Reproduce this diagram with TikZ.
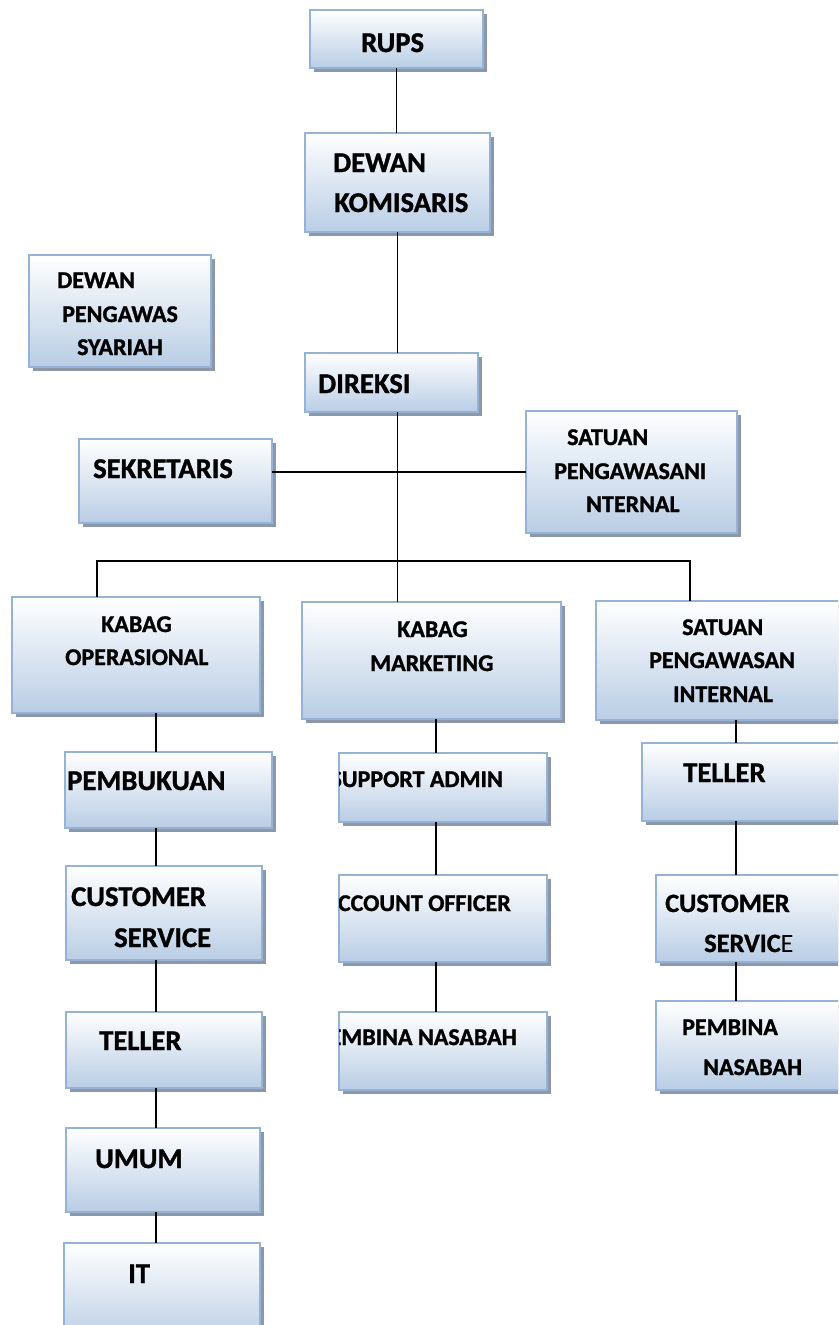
\documentclass[tikz,border=0pt]{standalone}
\usepackage{fontspec}
\setmainfont{Carlito}[BoldFeatures={FakeBold=1.2}]
\usetikzlibrary{shadows}
\definecolor{boxedge}{RGB}{149,179,215}
\definecolor{boxfill}{RGB}{185,205,229}
\definecolor{boxshade}{RGB}{140,152,170}
\begin{document}
\begin{tikzpicture}[x=1pt,y=-1pt,
  unit/.style={rectangle,anchor=north west,inner sep=0pt,outer sep=0pt,
    draw=boxedge,line width=1.8pt,top color=white,bottom color=boxfill,
    drop shadow={shadow xshift=3.5pt,shadow yshift=-3.5pt,fill=boxshade,opacity=1}},
  big/.style={anchor=base west,inner sep=0pt,font=\fontsize{28.6}{28}\selectfont\bfseries},
  mid/.style={anchor=base west,inner sep=0pt,font=\fontsize{26.4}{26}\selectfont\bfseries},
  small/.style={anchor=base west,inner sep=0pt,font=\fontsize{24}{24}\selectfont\bfseries},
  link/.style={line width=1.4pt}]
  \clip (0,0) rectangle (838,1325);
  % top of the chart
  \node[unit,minimum width=173pt,minimum height=58pt] (rups) at (310,10) {};
  \node[unit,minimum width=185pt,minimum height=99pt] (dk) at (305,133) {};
  \node[unit,minimum width=182pt,minimum height=112pt] (dps) at (29,255) {};
  \node[unit,minimum width=173pt,minimum height=59pt] (direksi) at (305,353) {};
  \node[unit,minimum width=193pt,minimum height=84pt] (sekr) at (79,439) {};
  \node[unit,minimum width=211pt,minimum height=122pt] (spi) at (526,411) {};
  % heads of department
  \node[unit,minimum width=248pt,minimum height=116pt] (kop) at (12,597) {};
  \node[unit,minimum width=259pt,minimum height=117pt] (kmk) at (302,602) {};
  \node[unit,minimum width=260pt,minimum height=119pt] (spi2) at (596,601) {};
  % left column
  \node[unit,minimum width=207pt,minimum height=76pt] (pemb) at (65,752) {};
  \node[unit,minimum width=196pt,minimum height=94pt] (cs1) at (66,866) {};
  \node[unit,minimum width=196pt,minimum height=76pt] (tel1) at (66,1012) {};
  \node[unit,minimum width=194pt,minimum height=84pt] (umum) at (66,1128) {};
  \node[unit,minimum width=196pt,minimum height=100pt] (it) at (64,1243) {};
  % middle column
  \node[unit,minimum width=208pt,minimum height=69pt] (sa) at (339,753) {};
  \node[unit,minimum width=208pt,minimum height=87pt] (ao) at (339,875) {};
  \node[unit,minimum width=208pt,minimum height=78pt] (pn) at (339,1012) {};
  % right column
  \node[unit,minimum width=210pt,minimum height=78pt] (tel2) at (642,743) {};
  \node[unit,minimum width=200pt,minimum height=87pt] (cs2) at (656,875) {};
  \node[unit,minimum width=200pt,minimum height=89pt] (pn2) at (656,1001) {};

  % connectors
  \coordinate (busL) at (97,561);
  \coordinate (busR) at (690,561);
  \coordinate (colL) at (156,0);
  \coordinate (colM) at (436,0);
  \coordinate (colR) at (736,0);
  \draw[link] (rups.south) -- (rups.south |- dk.north);
  \draw[link] (dk.south) -- (dk.south |- direksi.north);
  \draw[link] (dk.south |- direksi.south) -- (dk.south |- kmk.north);
  \draw[link] (sekr.east |- spi.west) -- (spi.west);
  \draw[link] (busL |- kop.north) -- (busL) -- (busR) -- (busR |- spi2.north);
  \draw[link] (colL |- kop.south) -- (colL |- pemb.north);
  \draw[link] (colL |- pemb.south) -- (colL |- cs1.north);
  \draw[link] (colL |- cs1.south) -- (colL |- tel1.north);
  \draw[link] (colL |- tel1.south) -- (colL |- umum.north);
  \draw[link] (colL |- umum.south) -- (colL |- it.north);
  \draw[link] (colM |- kmk.south) -- (colM |- sa.north);
  \draw[link] (colM |- sa.south) -- (colM |- ao.north);
  \draw[link] (colM |- ao.south) -- (colM |- pn.north);
  \draw[link] (colR |- spi2.south) -- (colR |- tel2.north);
  \draw[link] (colR |- tel2.south) -- (colR |- cs2.north);
  \draw[link] (colR |- cs2.south) -- (colR |- pn2.north);

  % texts
  \node[big] (rups-t) at (361,52) {RUPS};
  \node[big] (dk-t1) at (333,172) {DEWAN};
  \node[big] (dk-t2) at (334,212) {KOMISARIS};
  \node[small] (dps-t1) at (57,288) {DEWAN};
  \node[small] (dps-t2) at (62,322) {PENGAWAS};
  \node[small] (dps-t3) at (77,355) {SYARIAH};
  \node[big] (direksi-t) at (318,393) {DIREKSI};
  \node[big] (sekr-t) at (93,478) {SEKRETARIS};
  \node[small] (spi-t1) at (567,445) {SATUAN};
  \node[small] (spi-t2) at (554,479) {PENGAWASANI};
  \node[small] (spi-t3) at (586,512) {NTERNAL};
  \node[small] (kop-t1) at (101,632) {KABAG};
  \node[small] (kop-t2) at (65,665) {OPERASIONAL};
  \node[small] (kmk-t1) at (397,637) {KABAG};
  \node[small] (kmk-t2) at (370,671) {MARKETING};
  \node[small] (spi2-t1) at (682,635) {SATUAN};
  \node[small] (spi2-t2) at (649,668) {PENGAWASAN};
  \node[small] (spi2-t3) at (673,702) {INTERNAL};
  \node[big] (pemb-t) at (67,790) {PEMBUKUAN};
  \node[big] (cs1-t1) at (71,906) {CUSTOMER};
  \node[big] (cs1-t2) at (114,947) {SERVICE};
  \node[big] (tel1-t) at (99,1050) {TELLER};
  \node[big] (umum-t) at (95,1168) {UMUM};
  \node[big] (it-t) at (128,1283) {IT};
  \begin{scope}
    \clip (sa.south west) rectangle (sa.north east);
    \node[small,anchor=base east] (sa-t) at (503,787) {SUPPORT ADMIN};
  \end{scope}
  \begin{scope}
    \clip (ao.south west) rectangle (ao.north east);
    \node[small,anchor=base east] (ao-t) at (511,911) {ACCOUNT OFFICER};
  \end{scope}
  \begin{scope}
    \clip (pn.south west) rectangle (pn.north east);
    \node[small,anchor=base east] (pn-t) at (517,1045) {PEMBINA NASABAH};
  \end{scope}
  \node[big] (tel2-t) at (683,782) {TELLER};
  \node[mid] (cs2-t1) at (665,912) {CUSTOMER};
  \node[mid] (cs2-t2) at (704,952) {SERVIC\mdseries E};
  \node[small] (pn2-t1) at (682,1035) {PEMBINA};
  \node[small] (pn2-t2) at (703,1075) {NASABAH};
\end{tikzpicture}
\end{document}
